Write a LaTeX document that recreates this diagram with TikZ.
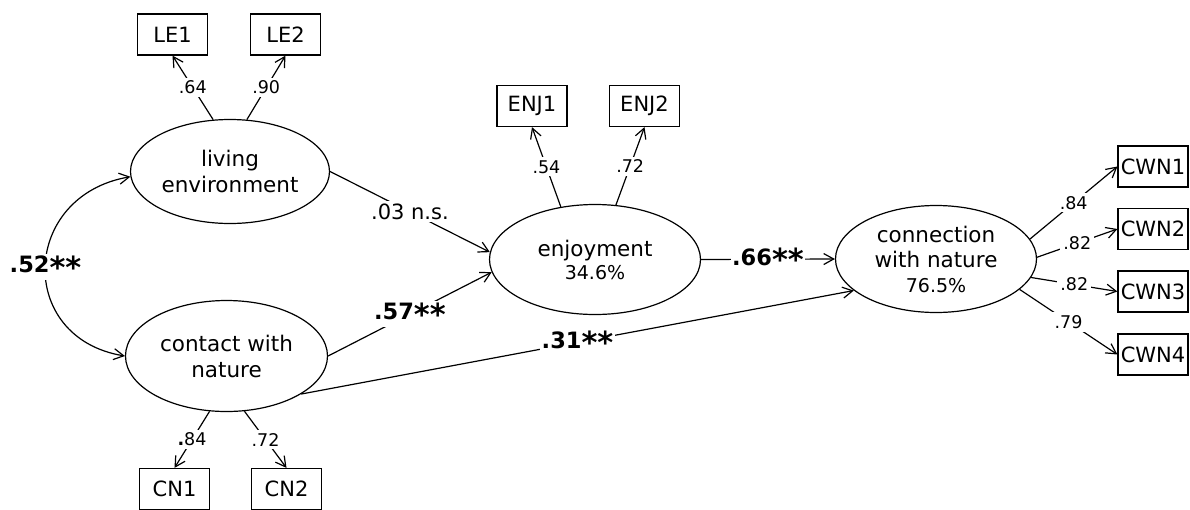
\documentclass[tikz,border=0pt]{standalone}
\usepackage{graphicx}
\usepackage{fontspec}
\setmainfont{DejaVu Sans}
\usetikzlibrary{shapes.geometric,arrows.meta}
\begin{document}
\begin{tikzpicture}[x=1pt,y=-1pt,line width=1.2pt,
  latent/.style={draw,ellipse,inner sep=0pt,align=center,
    font=\fontsize{21.5}{26}\selectfont},
  obs/.style={draw,rectangle,minimum width=70pt,minimum height=41pt,inner sep=1pt,
    font=\fontsize{21}{25}\selectfont},
  arr/.style={-{Straight Barb[length=10pt,width=11pt]}},
  biarr/.style={{Straight Barb[length=10pt,width=11pt]}-{Straight Barb[length=10pt,width=11pt]}},
  coef/.style={fill=white,inner sep=3pt,font=\fontsize{17.5}{20}\selectfont},
  plbl/.style={fill=white,inner sep=2.5pt,font=\fontsize{21}{24}\selectfont},
  blbl/.style={fill=white,inner sep=1.5pt,font=\bfseries\fontsize{22.5}{26}\selectfont}]
\newcommand{\pct}{\fontsize{19}{22}\selectfont}
% significance star, enlarged and set down to the cap line
\newcommand{\sigst}{\raisebox{-5.5pt}{\scalebox{1.35}{*}}}
\useasboundingbox (0,0) rectangle (1190,509);

% latent variables
\node[latent,minimum width=199pt,minimum height=104pt] (le) at (230,171.5) {living\\environment};
\node[latent,minimum width=202pt,minimum height=111pt] (con) at (226.5,356) {contact with\\nature};
\node[latent,minimum width=211pt,minimum height=110pt,font=\fontsize{21.5}{23}\selectfont] (enj) at (595,259.5) {enjoyment\\{\pct 34.6\%}};
\node[latent,minimum width=201pt,minimum height=107pt,font=\fontsize{21.5}{25}\selectfont] (cwn) at (936,259) {connection\\with nature\\{\pct 76.5\%}};

% indicators
\node[obs] (LE1) at (172.5,34.5) {LE1};
\node[obs] (LE2) at (285.5,34.5) {LE2};
\node[obs] (ENJ1) at (532,106) {ENJ1};
\node[obs] (ENJ2) at (644.5,106) {ENJ2};
\node[obs] (CN1) at (174.5,489) {CN1};
\node[obs] (CN2) at (286.5,489) {CN2};
\node[obs] (CWN1) at (1153,166.5) {CWN1};
\node[obs] (CWN2) at (1153,229) {CWN2};
\node[obs] (CWN3) at (1153,291.5) {CWN3};
\node[obs] (CWN4) at (1153,354.5) {CWN4};

% loadings
\draw[arr] (le.108) -- node[coef] {.64} (LE1.south);
\draw[arr] (le.72) -- node[coef] {.90} (LE2.south);
\draw[arr] (enj.123) -- node[coef] {.54} (ENJ1.south);
\draw[arr] (enj.69) -- node[coef] {.72} (ENJ2.south);
\draw[arr] (con.253) -- node[coef] {\textbf{.}84} (CN1.north);
\draw[arr] (con.288) -- node[coef] {.72} (CN2.north);
\draw[arr] (cwn.12) -- node[coef] {.84} (CWN1.west);
\draw[arr] (cwn.1) -- node[coef] {.82} (CWN2.west);
\draw[arr] (cwn.-11) -- node[coef] {.82} (CWN3.west);
\draw[arr] (cwn.-20) -- node[coef] {.79} (CWN4.west);

% structural paths
\draw[biarr] (le.183) .. controls +(-110,19) and +(-109,-18) .. node[blbl,pos=0.5] {.52\sigst\sigst} (con.west);
\draw[arr] (le.east) -- node[plbl] {.03 n.s.} (enj.176);
\draw[arr] (con.east) -- node[blbl] {.57\sigst\sigst} (enj.187);
\draw[arr] (enj.east) -- node[blbl] {.66\sigst\sigst} (cwn.west);
\draw[arr] (con.-27) -- node[blbl] {.31\sigst\sigst} (cwn.201);
\end{tikzpicture}
\end{document}
